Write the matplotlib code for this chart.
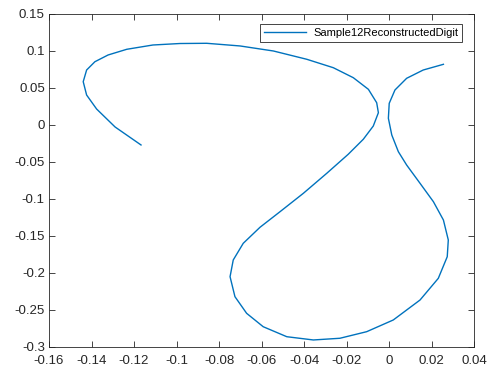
import numpy as np
import matplotlib.pyplot as plt

# reconstructed stroke coordinates
x = [-0.1167, -0.1289, -0.1376, -0.1423, -0.1439, -0.1423, -0.1384, -0.1322,
     -0.1234, -0.1111, -0.0984, -0.0858, -0.0701, -0.0544, -0.0387, -0.0262,
     -0.0168, -0.0097, -0.0058, -0.0050, -0.0074, -0.0121, -0.0192, -0.0293,
     -0.0403, -0.0513, -0.0607, -0.0686, -0.0733, -0.0748, -0.0725, -0.0670,
     -0.0592, -0.0481, -0.0356, -0.0231, -0.0105, 0.0020, 0.0146, 0.0232,
     0.0274, 0.0279, 0.0256, 0.0209, 0.0146, 0.0083, 0.0044, 0.0013,
     -0.0003, 0.0001, 0.0028, 0.0083, 0.0161, 0.0256]
y = [-0.0270, -0.0027, 0.0216, 0.0405, 0.0585, 0.0743, 0.0855, 0.0946,
     0.1023, 0.1081, 0.1101, 0.1104, 0.1068, 0.1000, 0.0888, 0.0774,
     0.0639, 0.0482, 0.0301, 0.0166, -0.0014, -0.0193, -0.0396, -0.0653,
     -0.0923, -0.1172, -0.1382, -0.1599, -0.1824, -0.2050, -0.2320, -0.2545,
     -0.2726, -0.2861, -0.2905, -0.2882, -0.2793, -0.2635, -0.2365, -0.2072,
     -0.1780, -0.1554, -0.1284, -0.1037, -0.0788, -0.0541, -0.0361, -0.0135,
     0.0091, 0.0293, 0.0473, 0.0631, 0.0743, 0.0820]

xticks = [-0.16, -0.14, -0.12, -0.1, -0.08, -0.06, -0.04, -0.02, 0, 0.02, 0.04]
yticks = [-0.3, -0.25, -0.2, -0.15, -0.1, -0.05, 0, 0.05, 0.1, 0.15]

plt.rcParams['font.family'] = ['Liberation Sans', 'DejaVu Sans']

fig = plt.figure(figsize=(4.91, 3.74), dpi=100)
ax = fig.add_axes([0.0998, 0.0722, 0.8656, 0.8904])
ax.plot(x, y, color='#0072BD', linewidth=1.0, label='Sample12ReconstructedDigit')

ax.set_xlim(-0.16, 0.04)
ax.set_ylim(-0.3, 0.15)
ax.set_xticks(xticks)
ax.set_yticks(yticks)
ax.set_xticklabels(['%g' % v for v in xticks])
ax.set_yticklabels(['%g' % v for v in yticks])
ax.tick_params(direction='in', top=True, right=True, length=4, width=0.6,
               labelsize=9.5, colors='#262626')
ax.tick_params(axis='x', pad=6)
ax.tick_params(axis='y', pad=3)
for s in ax.spines.values():
    s.set_color('#262626')
    s.set_linewidth(0.6)

leg = ax.legend(loc='upper right', bbox_to_anchor=(0.9409, 0.935),
                bbox_transform=fig.transFigure, borderaxespad=0,
                fontsize=8, fancybox=False, framealpha=1, edgecolor='#262626',
                handlelength=3.8, handletextpad=0.6, borderpad=0.35)
leg.get_frame().set_linewidth(0.6)

fig.savefig('out.png', dpi=100)
